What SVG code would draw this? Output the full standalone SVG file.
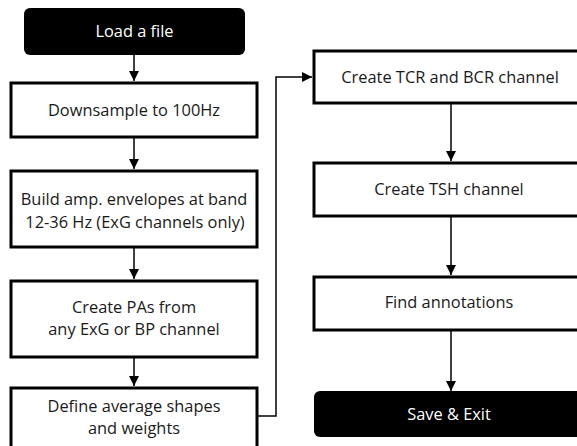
<svg xmlns="http://www.w3.org/2000/svg" width="577" height="446" viewBox="0 0 577 446">
<defs>
<marker id="arr" markerUnits="userSpaceOnUse" markerWidth="12" markerHeight="12" viewBox="0 0 12 12" refX="11" refY="6" orient="auto">
<path d="M1,1 L11,6 L1,11 Z" fill="#000"/>
</marker>
</defs>
<style>
.box{fill:#fff;stroke:#000;stroke-width:3}
.term{fill:#000;stroke:none}
.t{font-family:"Open Sans","Noto Sans",sans-serif;font-size:16.4px;fill:#1a1a1a;text-anchor:middle}
.tw{font-family:"Open Sans","Noto Sans",sans-serif;font-size:16.4px;fill:#fff;text-anchor:middle}
.c{fill:none;stroke:#000;stroke-width:1.5}
</style>
<rect width="577" height="446" fill="#fff"/>
<g id="connectors">
<line class="c" x1="134" y1="55" x2="134" y2="81" marker-end="url(#arr)"/>
<line class="c" x1="134" y1="137" x2="134" y2="169" marker-end="url(#arr)"/>
<line class="c" x1="134" y1="247" x2="134" y2="279" marker-end="url(#arr)"/>
<line class="c" x1="134" y1="357" x2="134" y2="386" marker-end="url(#arr)"/>
<polyline class="c" points="258,416 276,416 276,77 312,77" marker-end="url(#arr)"/>
<line class="c" x1="451" y1="103" x2="451" y2="161" marker-end="url(#arr)"/>
<line class="c" x1="451" y1="216" x2="451" y2="275" marker-end="url(#arr)"/>
<line class="c" x1="451" y1="330" x2="451" y2="391" marker-end="url(#arr)"/>
</g>
<g id="load">
<rect class="term" x="24" y="8" width="221" height="47" rx="6"/>
<text class="tw" x="134.5" y="37">Load a file</text>
</g>
<g id="downsample">
<rect class="box" x="11" y="83" width="246" height="54"/>
<text class="t" x="134" y="116">Downsample to 100Hz</text>
</g>
<g id="envelopes">
<rect class="box" x="11" y="171" width="246" height="76"/>
<text class="t" x="134" y="205">Build amp. envelopes at band</text>
<text class="t" x="135" y="228">12-36 Hz (ExG channels only)</text>
</g>
<g id="pas">
<rect class="box" x="11" y="281" width="246" height="76"/>
<text class="t" x="134" y="313">Create PAs from</text>
<text class="t" x="134" y="335">any ExG or BP channel</text>
</g>
<g id="define">
<rect class="box" x="11" y="388" width="246" height="64"/>
<text class="t" x="134" y="412">Define average shapes</text>
<text class="t" x="134" y="434">and weights</text>
</g>
<g id="tcr">
<rect class="box" x="314" y="51" width="276" height="52"/>
<text class="t" x="450" y="83">Create TCR and BCR channel</text>
</g>
<g id="tsh">
<rect class="box" x="314" y="163" width="276" height="53"/>
<text class="t" x="449" y="195">Create TSH channel</text>
</g>
<g id="annotations">
<rect class="box" x="314" y="277" width="276" height="53"/>
<text class="t" x="449" y="308">Find annotations</text>
</g>
<g id="save">
<rect class="term" x="314" y="391" width="276" height="46" rx="6"/>
<text class="tw" x="449" y="420">Save &amp; Exit</text>
</g>
</svg>
